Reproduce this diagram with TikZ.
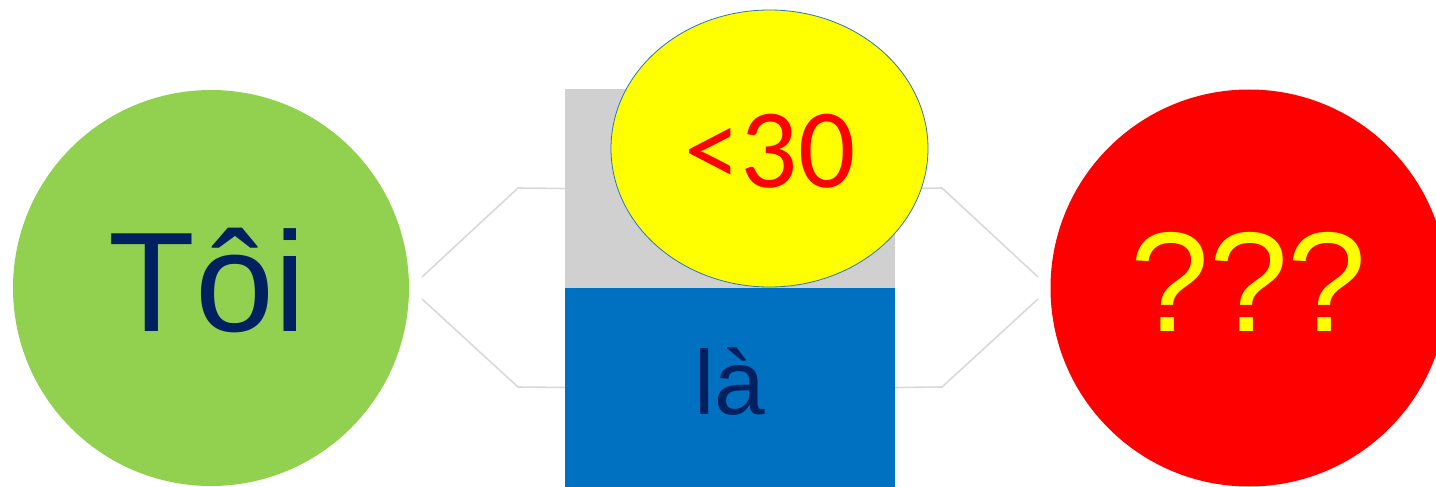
\documentclass[tikz,border=0pt]{standalone}
\usepackage{fontspec}
\usetikzlibrary{shapes.geometric}
\newfontfamily\arialfont{Liberation Sans}
\newfontfamily\calibrifont{Carlito}
\definecolor{leaf}{HTML}{92D050}
\definecolor{navy}{HTML}{002060}
\definecolor{boxgray}{HTML}{D0D0D0}
\definecolor{boxblue}{HTML}{0070C0}
\definecolor{linkgray}{HTML}{D9D9D9}
\definecolor{rimblue}{HTML}{2E75B6}
\definecolor{pureyellow}{HTML}{FFFF00}
\definecolor{purered}{HTML}{FF0000}
\tikzset{
  disc/.style={circle, inner sep=0pt, minimum size=#1},
  block/.style={rectangle, inner sep=0pt, minimum width=330pt, minimum height=199pt},
  link/.style={draw=linkgray, line width=1.6pt},
  word/.style={anchor=base, inner sep=0pt}
}
\begin{document}
\begin{tikzpicture}[x=1pt, y=-1pt]
  \clip (0,0) rectangle (1436,487);
  \useasboundingbox (0,0) rectangle (1436,487);

  % main shapes
  \node[disc=396pt, fill=leaf] (me) at (211,288) {};
  \node[disc=397pt, fill=purered] (unknown) at (1249,288) {};
  \node[block, fill=boxgray] (top) at (730,188.5) {};
  \node[block, fill=boxblue] (bottom) at (730,387.5) {};

  % bracket connectors
  \coordinate (lu) at (422,277);
  \coordinate (lukink) at (518,188);
  \coordinate (ld) at (422,299);
  \coordinate (ldkink) at (518,387);
  \coordinate (ru) at (1038,277);
  \coordinate (rukink) at (942,188);
  \coordinate (rd) at (1038,299);
  \coordinate (rdkink) at (942,387);
  \draw[link] (lu) -- (lukink) -- (top.west);
  \draw[link] (ld) -- (ldkink) -- (bottom.west);
  \draw[link] (top.east) -- (rukink) -- (ru);
  \draw[link] (bottom.east) -- (rdkink) -- (rd);

  % oval badge
  \node[ellipse, inner sep=0pt, minimum width=317pt, minimum height=277pt,
        fill=pureyellow, draw=rimblue, line width=0.8pt] (age) at (769.5,148.5) {};

  % labels
  \node[word, text=navy, font=\arialfont\fontsize{142}{142}\selectfont] (t1) at (207,331) {Tôi};
  \node[word, text=navy, font=\arialfont\fontsize{91}{91}\selectfont] (t2) at (730,414) {là};
  \node[word, text=purered, font=\calibrifont\fontsize{113}{113}\selectfont] (t3) at (770,187) {<30};
  \node[word, text=pureyellow, font=\arialfont\fontsize{142}{142}\selectfont] (t4) at (1248.5,331) {???};
\end{tikzpicture}
\end{document}
